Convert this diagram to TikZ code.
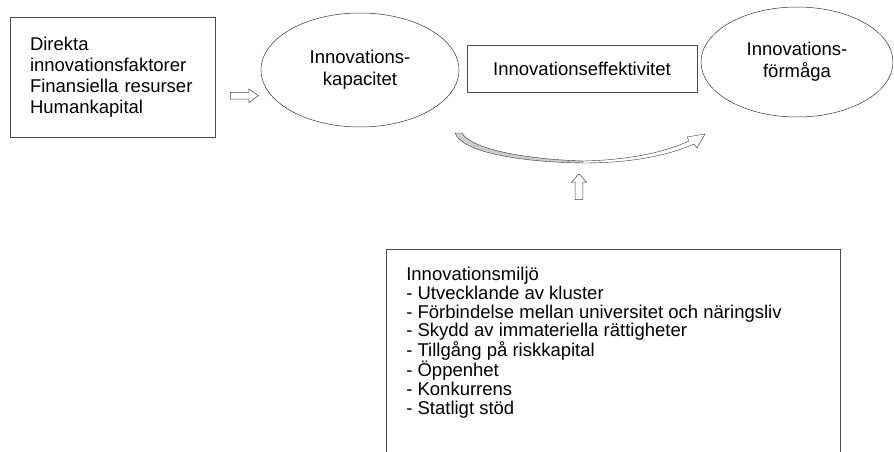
\documentclass[tikz,border=0pt]{standalone}
\usepackage{fontspec}
\setmainfont{Liberation Sans}
\usetikzlibrary{shapes.geometric, shapes.arrows}
\tikzset{box/.style={draw=black!70, line width=0.6pt, rectangle, inner sep=0pt},
         oval/.style={draw=black!80, line width=0.5pt, ellipse, inner sep=0pt, align=center, font=\fontsize{18.5}{22}\selectfont},
         blockarrow/.style={draw=black!75, line width=0.5pt, single arrow, inner xsep=0pt, single arrow head indent=0pt},
        }

\begin{document}
\begin{tikzpicture}[x=1pt, y=-1pt]
        \useasboundingbox (0,0) rectangle (894,452);

        \node[box, text width=165pt, inner xsep=20pt, minimum height=120pt, align=left, font=\fontsize{18.5}{21}\selectfont](faktorer)at(112.5,77){Direkta\\innovationsfaktorer\\Finansiella resurser\\Humankapital};
        \node[oval, minimum width=198pt, minimum height=114pt](kapacitet)at(360,70){Innovations-\\kapacitet};
        \node[box, minimum width=230pt, minimum height=47pt, font=\fontsize{18.5}{21}\selectfont](effektivitet)at(582,68.5){Innovationseffektivitet};
        \node[oval, minimum width=192pt, minimum height=110pt](formaga)at(797,62){Innovations-\\förmåga};

        \node[blockarrow, inner ysep=3.2pt, single arrow head extend=3.5pt, single arrow tip angle=72, minimum height=28pt](pil)at(242,95.7){};
        \node[blockarrow, rotate=90, inner ysep=3.7pt, single arrow head extend=3.5pt, single arrow tip angle=84, minimum height=25.7pt](upp)at(579,189){};

        \draw[black!80, line width=0.4pt, fill=black!20](455,133)--(462,133) .. controls (470,148) and (520,159) .. (583,161)--(583,163) .. controls (518,162) and (462,152) .. (455,133)--cycle;
        \draw[black!80, line width=0.4pt, fill=white](583,161) .. controls (630,160) and (665,152) .. (689,141)--(687,137)--(705,134)--(697,148)--(694,144) .. controls (667,156) and (630,163) .. (583,163)--cycle;

        \node[box, anchor=north west, inner xsep=20pt, inner ysep=18pt, font=\fontsize{18.5}{18.7}\selectfont](miljo)at(386,249){\parbox[t][220pt][t]{414pt}{Innovationsmiljö\\- Utvecklande av kluster\\- Förbindelse mellan universitet och näringsliv\\- Skydd av immateriella rättigheter\\- Tillgång på riskkapital\\- Öppenhet\\- Konkurrens\\- Statligt stöd}};
    \end{tikzpicture}
\end{document}
